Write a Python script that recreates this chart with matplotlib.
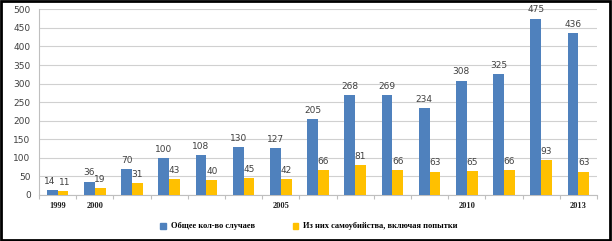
import matplotlib
matplotlib.use("Agg")
import matplotlib.pyplot as plt
import numpy as np
from matplotlib.patches import Rectangle

years = list(range(1999, 2014))
total_cases = [14, 36, 70, 100, 108, 130, 127, 205, 268, 269, 234, 308, 325, 475, 436]
suicides = [11, 19, 31, 43, 40, 45, 42, 66, 81, 66, 63, 65, 66, 93, 63]
shown_years = {1999, 2000, 2005, 2010, 2013}
series_names = ["Общее кол-во случаев", "Из них самоубийства, включая попытки"]
colors = ["#4F81BD", "#FFC000"]

fig = plt.figure(figsize=(6.12, 2.41), dpi=100)
ax = fig.add_axes([39/612, 1-195/241, (597-39)/612, (195-9.3)/241])

x = np.arange(len(years))
w = 0.29
b1 = ax.bar(x - w/2, total_cases, w, color=colors[0], zorder=3)
b2 = ax.bar(x + w/2, suicides, w, color=colors[1], zorder=3)

lab_kw = dict(fontsize=6.5, color="#404040", family="DejaVu Sans", ha="center", va="bottom")
for i, (xi, v) in enumerate(zip(x, total_cases)):
    dx = -1.5 if i == 0 else 0
    ax.annotate(str(v), (xi - w/2, v), xytext=(dx, 3), textcoords="offset points", **lab_kw)
for i, (xi, v) in enumerate(zip(x, suicides)):
    dx = 1.5 if i == 0 else 0
    ax.annotate(str(v), (xi + w/2, v), xytext=(dx, 3), textcoords="offset points", **lab_kw)

ax.set_xlim(-0.5, len(years) - 0.5)
ax.set_ylim(0, 500)
ax.set_yticks(np.arange(0, 501, 50))
ax.yaxis.grid(True, color="#d0d0d0", linewidth=0.8, zorder=0)
ax.set_axisbelow(True)
for lab in ax.get_yticklabels():
    lab.set_fontsize(6.5)
    lab.set_color("#404040")
ax.tick_params(axis="y", length=0, pad=6)

ax.set_xticks(np.arange(-0.5, len(years), 1.0))
ax.set_xticklabels([])
ax.tick_params(axis="x", length=3, color="#bfbfbf", width=0.8)
for xi, yr in zip(x, years):
    if yr in shown_years:
        ax.annotate(str(yr), (xi, 0), xytext=(0, -5), textcoords="offset points",
                    ha="center", va="top", fontsize=6, fontweight="bold",
                    family="Liberation Serif", color="#202020", annotation_clip=False)

for s in ["top", "right"]:
    ax.spines[s].set_visible(False)
ax.spines["left"].set_color("#bfbfbf")
ax.spines["bottom"].set_color("#bfbfbf")

handles = [Rectangle((0, 0), 1, 1, color=c) for c in colors]
fig.legend(handles, series_names, loc="center", bbox_to_anchor=(309/612, 1-226.5/241),
           ncol=2, frameon=False, handlelength=0.7, handleheight=0.7, handletextpad=0.6,
           columnspacing=4.5, prop={"family": "Liberation Serif", "weight": "bold", "size": 6})

fig.patches.append(Rectangle((0.002, 0.004), 0.994, 0.992, transform=fig.transFigure,
                             fill=False, edgecolor="black", linewidth=2))

fig.savefig("out.png", dpi=100)
